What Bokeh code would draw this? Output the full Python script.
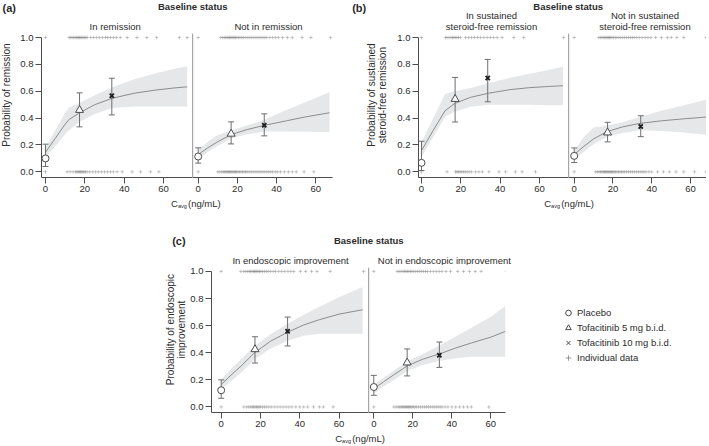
import math
from bokeh.plotting import figure
from bokeh.layouts import row, column
from bokeh.models import (Range1d, FixedTicker, PrintfTickFormatter, Span, Spacer,
                          Legend, LegendItem)
from bokeh.core.properties import value
from bokeh.embed import file_html
from bokeh.resources import INLINE

FONT = "Liberation Sans"
TXT = "#2b2b2b"
AXC = "#4d4d4d"
BAND = "#e6e7e8"
CURVE = "#8c8c8c"
ERR = "#6e6e6e"
MK = "#4a4a4a"
IND = "#808080"

# ---------------- data ----------------
X_TICKS = [0, 20, 40, 60]
Y_TICKS = [0.0, 0.2, 0.4, 0.6, 0.8, 1.0]
LEGEND_LABELS = ["Placebo", "Tofacitinib 5 mg b.i.d.", "Tofacitinib 10 mg b.i.d.", "Individual data"]

# (a) probability of remission -- baseline: in remission
a_l_obs_x = [0, 17.3, 33.7]
a_l_obs_y = [0.100, 0.460, 0.566]
a_l_obs_lo = [0.040, 0.335, 0.424]
a_l_obs_hi = [0.206, 0.588, 0.697]
a_l_cx = [0, 5, 10, 12, 17, 25, 34, 45, 55, 65, 72]
a_l_cy = [0.146, 0.25, 0.355, 0.39, 0.437, 0.50, 0.548, 0.585, 0.607, 0.624, 0.633]
a_l_clo = [0.11, 0.19, 0.28, 0.31, 0.37, 0.43, 0.476, 0.486, 0.486, 0.486, 0.486]
a_l_chi = [0.18, 0.31, 0.44, 0.48, 0.51, 0.57, 0.63, 0.69, 0.73, 0.765, 0.787]
a_l_ind1 = [0, 12, 12.8, 13.5, 14.2, 15, 15.6, 16.2, 16.8, 17.3, 17.9, 18.5, 19.1, 19.8, 20.5,
            21.2, 23, 24.5, 26, 27.5, 29, 30.5, 31.5, 33, 34.5, 36, 38, 41.5, 46.5, 51.5, 56.5, 68, 72]
a_l_ind0 = [0, 11, 12.5, 14, 15.3, 16, 16.6, 17.2, 17.8, 18.4, 19, 19.6, 20.3, 21.2, 22.5, 24,
            25.5, 27, 28.5, 30, 31.5, 33, 34.5, 36.4, 39, 44, 48.3, 53.4, 57.6]

# (a) baseline: not in remission
a_r_obs_x = [0, 16.8, 33.7]
a_r_obs_y = [0.114, 0.283, 0.347]
a_r_obs_lo = [0.065, 0.208, 0.268]
a_r_obs_hi = [0.179, 0.372, 0.432]
a_r_cx = [0, 5, 10, 17, 25, 34, 45, 55, 67]
a_r_cy = [0.129, 0.18, 0.225, 0.278, 0.315, 0.347, 0.38, 0.41, 0.44]
a_r_clo = [0.09, 0.15, 0.195, 0.25, 0.28, 0.30, 0.30, 0.298, 0.295]
a_r_chi = [0.165, 0.225, 0.275, 0.31, 0.345, 0.39, 0.46, 0.52, 0.593]
a_r_ind1 = [0, 11.5, 12.5, 13.3, 14, 14.7, 15.3, 16, 16.6, 17.2, 17.8, 18.4, 19, 19.7, 20.5, 21.3,
            22.2, 23, 24, 25, 26, 27, 28, 29, 30, 31, 32, 33, 34, 35, 36.5, 38, 39.5, 41, 43, 45.5,
            48, 53, 57.5, 67.5]
a_r_ind0 = [0, 10, 11, 12, 12.8, 13.5, 14.2, 14.8, 15.4, 16, 16.6, 17.2, 17.8, 18.4, 19, 19.6,
            20.3, 21, 21.8, 22.6, 23.4, 24.2, 25, 26, 27, 28, 29, 30, 31, 32, 33, 34, 35, 36, 37,
            38, 39.3, 40.5, 42, 44, 46, 48, 50, 54, 59]

# (b) sustained steroid-free remission -- baseline: in
b_l_obs_x = [0, 17.1, 33.7]
b_l_obs_y = [0.067, 0.542, 0.698]
b_l_obs_lo = [0.010, 0.371, 0.522]
b_l_obs_hi = [0.228, 0.703, 0.837]
b_l_cx = [0, 6, 12, 17, 25, 34, 45, 55, 65, 72]
b_l_cy = [0.158, 0.31, 0.455, 0.51, 0.555, 0.585, 0.612, 0.627, 0.636, 0.641]
b_l_clo = [0.11, 0.26, 0.41, 0.45, 0.485, 0.50, 0.50, 0.50, 0.495, 0.495]
b_l_chi = [0.22, 0.40, 0.58, 0.60, 0.625, 0.66, 0.70, 0.73, 0.76, 0.782]
b_l_ind1 = [0, 12.2, 13, 14, 15, 15.8, 16.5, 17.2, 18, 18.8, 19.8, 22.4, 24, 25.5, 27, 28.5, 30,
            31.7, 33.4, 35, 36.7, 38.5, 41, 47, 52, 72.3]
b_l_ind0 = [0, 13, 17.3, 18, 18.8, 19.6, 20.4, 21.3, 22.2, 23.2, 24.3, 25.5, 27.5, 29.2, 31,
            34.3, 39.4, 42.8, 47.8, 51.2, 58]

# (b) baseline: not in
b_r_obs_x = [0, 17.2, 34.3]
b_r_obs_y = [0.119, 0.292, 0.337]
b_r_obs_lo = [0.069, 0.223, 0.262]
b_r_obs_hi = [0.178, 0.369, 0.418]
b_r_cx = [0, 5, 10, 17, 25, 34, 45, 55, 68]
b_r_cy = [0.129, 0.19, 0.245, 0.30, 0.335, 0.361, 0.38, 0.393, 0.408]
b_r_clo = [0.095, 0.15, 0.205, 0.26, 0.29, 0.31, 0.305, 0.295, 0.277]
b_r_chi = [0.16, 0.26, 0.33, 0.345, 0.37, 0.41, 0.455, 0.49, 0.537]
b_r_ind1 = [0, 12.7, 13.5, 14.3, 15, 15.7, 16.4, 17, 17.6, 18.2, 18.8, 19.5, 20.3, 21.2, 22, 23,
            24, 25, 26, 27, 28, 29, 30, 31, 32.2, 33.5, 35, 36.5, 38, 39.5, 42, 45, 48, 50, 53,
            56.5, 68]
b_r_ind0 = [0, 11, 12, 12.8, 13.6, 14.3, 15, 15.6, 16.2, 16.8, 17.4, 18, 18.6, 19.2, 19.8, 20.5,
            21.2, 22, 22.8, 23.6, 24.4, 25.2, 26, 27, 28, 29, 30, 31, 32, 33, 34, 35, 36, 37,
            38.5, 40, 43, 46, 49, 52.5, 56.5, 62, 68]

# (c) endoscopic improvement -- baseline: in
c_l_obs_x = [0, 17.2, 33.8]
c_l_obs_y = [0.123, 0.425, 0.558]
c_l_obs_lo = [0.064, 0.324, 0.450]
c_l_obs_hi = [0.200, 0.518, 0.663]
c_l_cx = [0, 5, 10, 17, 25, 34, 42, 50, 60, 72]
c_l_cy = [0.165, 0.235, 0.30, 0.40, 0.484, 0.553, 0.605, 0.644, 0.685, 0.717]
c_l_clo = [0.13, 0.19, 0.25, 0.35, 0.43, 0.49, 0.525, 0.54, 0.54, 0.54]
c_l_chi = [0.20, 0.28, 0.35, 0.45, 0.535, 0.615, 0.68, 0.74, 0.81, 0.885]
c_l_ind1 = [0, 10, 11.5, 12.5, 13.5, 14.3, 15, 15.7, 16.4, 17, 17.6, 18.2, 18.8, 19.5, 20.2, 21,
            22, 23, 24, 25.2, 26.5, 27.7, 29.3, 30.8, 32.3, 34, 35.5, 37, 40.3, 43, 46, 48.8,
            55.5, 72.5]
c_l_ind0 = [0, 11.5, 13, 14, 15, 15.8, 16.5, 17.2, 17.9, 18.6, 19.3, 20, 21, 22, 23, 24.2, 25.5,
            27, 28.5, 30, 31.5, 33, 34.5, 36, 38, 40, 42, 44, 47, 50, 52, 57]

# (c) baseline: not in
c_r_obs_x = [0, 17.1, 33.6]
c_r_obs_y = [0.147, 0.327, 0.381]
c_r_obs_lo = [0.086, 0.229, 0.292]
c_r_obs_hi = [0.233, 0.428, 0.479]
c_r_cx = [0, 5, 10, 17, 25, 34, 42, 50, 60, 67.5]
c_r_cy = [0.135, 0.185, 0.235, 0.302, 0.352, 0.393, 0.435, 0.472, 0.515, 0.558]
c_r_clo = [0.10, 0.15, 0.195, 0.265, 0.31, 0.34, 0.36, 0.37, 0.37, 0.37]
c_r_chi = [0.165, 0.215, 0.265, 0.335, 0.39, 0.455, 0.52, 0.585, 0.665, 0.745]
c_r_ind1 = [0, 12, 13, 14, 15, 15.8, 16.5, 17.2, 18, 18.8, 19.6, 20.5, 21.5, 22.5, 23.5, 24.5,
            25.5, 26.5, 27.5, 29, 30.5, 32, 33.5, 35, 37, 39.3, 43, 46, 49, 52, 55, 68]
c_r_ind0 = [0, 10.3, 11.5, 12.5, 13.3, 14, 14.7, 15.4, 16, 16.6, 17.2, 17.8, 18.4, 19, 19.7,
            20.4, 21.2, 22, 23, 24, 25, 26, 27, 28, 29, 30, 31, 32, 33, 34, 35, 36.5, 38, 40,
            42, 44, 46, 48, 50, 59]

# ---------------- layout constants ----------------
BOT = 20      # bottom border (x axis)
TOPB = 2      # top border above frame
TICKB = 24    # left border holding y ticks and tick labels
Y_RANGE_AB = (-0.042, 1.03)
Y_RANGE_C = (-0.041, 1.029)


def blank(W, H):
    p = figure(width=W, height=H, x_range=Range1d(0, W), y_range=Range1d(H, 0),
               output_backend="svg", toolbar_location=None, min_border=0,
               x_axis_location=None, y_axis_location=None)
    p.outline_line_color = None
    p.grid.visible = False
    return p


def add_text(p, x, y, t, size="9.5px", style="normal", align="center", angle=0.0):
    p.text(x=[x], y=[y], text=[t], text_font=value(FONT), text_font_size=size,
           text_font_style=style, text_align=align, text_baseline="middle", text_color=TXT,
           angle=angle)


def subplot(fw, fh, L, R, xr, yr, show_y, cx, cy, clo, chi, ox, oy, olo, ohi, ind1, ind0):
    p = figure(width=L + fw + R, height=TOPB + fh + BOT, x_range=Range1d(*xr), y_range=Range1d(*yr),
               output_backend="svg", toolbar_location=None,
               min_border_left=L, min_border_right=R, min_border_top=TOPB, min_border_bottom=BOT,
               y_axis_location="left" if show_y else None)
    p.outline_line_color = None
    p.grid.visible = False

    p.varea(x=cx, y1=clo, y2=chi, fill_color=BAND)
    p.line(cx, cy, line_color=CURVE, line_width=1)
    p.segment(x0=ox, y0=olo, x1=ox, y1=ohi, line_color=ERR, line_width=1)
    p.scatter(ox + ox, olo + ohi, marker="dash", size=6, line_color=ERR, line_width=1)
    p.scatter(ind1, [1.0] * len(ind1), marker="cross", size=3.5, line_color=IND,
              line_alpha=0.6, line_width=0.7)
    p.scatter(ind0, [0.0] * len(ind0), marker="cross", size=3.5, line_color=IND,
              line_alpha=0.6, line_width=0.7)
    p.scatter([ox[0]], [oy[0]], marker="circle", size=7, fill_color="white",
              line_color=MK, line_width=1)
    p.scatter([ox[1]], [oy[1]], marker="triangle", size=8, fill_color="white",
              line_color=MK, line_width=1)
    p.scatter([ox[2]], [oy[2]], marker="x", size=6, line_color="#1e1e1e", line_width=1.8)

    for ax in p.axis:
        ax.axis_line_color = AXC
        ax.axis_line_width = 1
        ax.major_tick_line_color = AXC
        ax.minor_tick_line_color = None
        ax.major_tick_out = 6
        ax.major_tick_in = 0
        ax.major_label_standoff = 2
        ax.major_label_text_font = FONT
        ax.major_label_text_font_size = "9.5px"
        ax.major_label_text_color = TXT
    p.xaxis.ticker = FixedTicker(ticks=X_TICKS)
    if show_y:
        p.yaxis.ticker = FixedTicker(ticks=Y_TICKS)
        p.yaxis.formatter = PrintfTickFormatter(format="%.1f")
        p.yaxis.bounds = (yr[0], 1.0)
    else:
        p.add_layout(Span(location=xr[0], dimension="height", line_color=AXC, line_width=1.2))
    return p


def panel(tag, tag_xy, base_xy, subtitles, header_h, ylab_lines, ylab_xs,
          L, fwl, fwr, R, fh, xrl, xrr, yr, left_data, right_data, foot_h, xlab_xy):
    W = L + fwl + fwr + R
    hd = blank(W, header_h)
    add_text(hd, tag_xy[0], tag_xy[1], tag, size="11px", style="bold", align="left")
    add_text(hd, base_xy[0], base_xy[1], "Baseline status", size="9.5px", style="bold")
    for (x, y, t) in subtitles:
        add_text(hd, x, y, t)
    yl = blank(L - TICKB, TOPB + fh + BOT)
    for (x, t) in zip(ylab_xs, ylab_lines):
        add_text(yl, x, TOPB + fh / 2 - 3, t, size="10px", angle=math.pi / 2)
    lp = subplot(fwl, fh, TICKB, 0, xrl, yr, True, *left_data)
    rp = subplot(fwr, fh, 0, R, xrr, yr, False, *right_data)
    ft = blank(W, foot_h)
    x0 = xlab_xy[0] - 24
    add_text(ft, x0, xlab_xy[1], "C", align="left")
    add_text(ft, x0 + 6.9, xlab_xy[1] + 2.5, "avg", size="5.5px", align="left")
    add_text(ft, x0 + 17, xlab_xy[1], "(ng/mL)", align="left")
    return column(hd, row(yl, lp, rp), ft)


pA = panel("(a)", (2, 7), (192.3, 5.7),
           [(114.7, 26, "In remission"), (268, 26, "Not in remission")], 31,
           ["Probability of remission"], [5.5],
           41, 151, 140, 2, 144, (-2.03, 74.7), (-2.9, 68.5), Y_RANGE_AB,
           (a_l_cx, a_l_cy, a_l_clo, a_l_chi, a_l_obs_x, a_l_obs_y, a_l_obs_lo, a_l_obs_hi, a_l_ind1, a_l_ind0),
           (a_r_cx, a_r_cy, a_r_clo, a_r_chi, a_r_obs_x, a_r_obs_y, a_r_obs_lo, a_r_obs_hi, a_r_ind1, a_r_ind0),
           13, (194.5, 6))

pB = panel("(b)", (1.7, 7), (217.7, 5.7),
           [(141, 15, "In sustained"), (141, 26, "steroid-free remission"),
            (294.5, 15, "Not in sustained"), (294.5, 26, "steroid-free remission")], 31,
           ["Probability of sustained", "steroid-free remission"], [20.5, 31.5],
           68, 150, 138, 0, 144, (-1.53, 74.8), (-2.94, 68.2), Y_RANGE_AB,
           (b_l_cx, b_l_cy, b_l_clo, b_l_chi, b_l_obs_x, b_l_obs_y, b_l_obs_lo, b_l_obs_hi, b_l_ind1, b_l_ind0),
           (b_r_cx, b_r_cy, b_r_clo, b_r_chi, b_r_obs_x, b_r_obs_y, b_r_obs_lo, b_r_obs_hi, b_r_ind1, b_r_ind0),
           13, (217.7, 6))

pC = panel("(c)", (16.7, 8), (213.3, 8),
           [(135, 28, "In endoscopic improvement"), (288.8, 28, "Not in endoscopic improvement")], 33,
           ["Probability of endoscopic", "improvement"], [15, 26],
           56, 157, 137, 10, 145, (-4.94, 75.0), (-2.72, 67.5), Y_RANGE_C,
           (c_l_cx, c_l_cy, c_l_clo, c_l_chi, c_l_obs_x, c_l_obs_y, c_l_obs_lo, c_l_obs_hi, c_l_ind1, c_l_ind0),
           (c_r_cx, c_r_cy, c_r_clo, c_r_chi, c_r_obs_x, c_r_obs_y, c_r_obs_lo, c_r_obs_hi, c_r_ind1, c_r_ind0),
           13, (203.7, 6.3))

# legend
NAN = float("nan")
lg = figure(width=130, height=62, x_range=Range1d(0, 1), y_range=Range1d(0, 1),
            output_backend="svg", toolbar_location=None, min_border=0,
            x_axis_location=None, y_axis_location=None)
lg.outline_line_color = None
lg.grid.visible = False
r1 = lg.scatter(x=[NAN], y=[NAN], marker="circle", size=6, fill_color="white", line_color=MK)
r2 = lg.scatter(x=[NAN], y=[NAN], marker="triangle", size=6, fill_color="white", line_color=MK)
r3 = lg.scatter(x=[NAN], y=[NAN], marker="x", size=6, line_color=MK, line_width=1)
r4 = lg.scatter(x=[NAN], y=[NAN], marker="cross", size=6, line_color=IND, line_width=0.8)
legend = Legend(items=[LegendItem(label=LEGEND_LABELS[i], renderers=[r])
                       for i, r in enumerate([r1, r2, r3, r4])],
                location="top_left", margin=0, padding=0, spacing=0,
                glyph_width=14, glyph_height=15, label_height=15, label_standoff=2,
                label_text_font=FONT, label_text_font_size="9.5px", label_text_color=TXT,
                border_line_color=None, background_fill_alpha=0)
lg.add_layout(legend)

top = row(pA, Spacer(width=16, height=10), pB)
bottom = row(Spacer(width=155, height=10), pC, Spacer(width=46, height=10),
             column(Spacer(width=130, height=73), lg))
layout = column(top, Spacer(width=10, height=22), bottom)

open("out.html", "w").write(file_html(layout, INLINE))
